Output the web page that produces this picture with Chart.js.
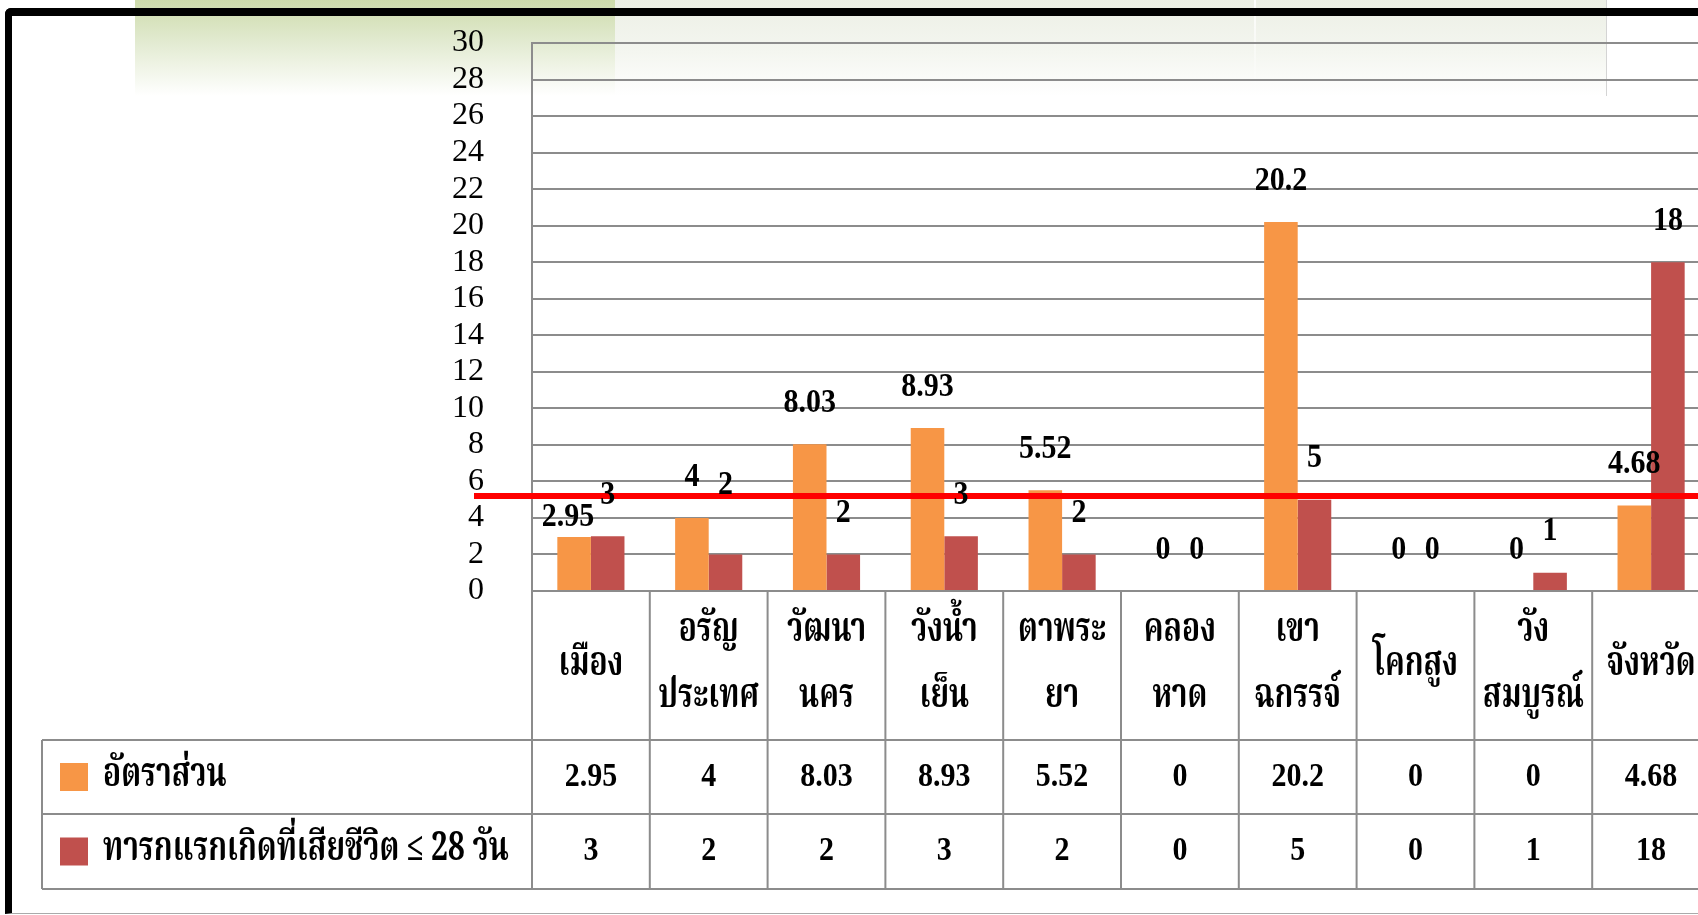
<!DOCTYPE html>
<html><head><meta charset="utf-8">
<script src="https://cdn.jsdelivr.net/npm/chart.js@4.4.1/dist/chart.umd.min.js"></script>
<style>
html,body{margin:0;padding:0;width:1698px;height:915px;overflow:hidden;background:#fff;}
#deco1{position:absolute;left:135px;top:0;width:480px;height:96px;background:linear-gradient(#cddbab,#e3ebd2 45%,#fff);}
#deco2{position:absolute;left:615px;top:0;width:991px;height:96px;background:linear-gradient(#ecefe5,#f4f6f0 55%,#fff);border-right:1px solid #d4d4d4;}
#deco3{position:absolute;left:1254px;top:0;width:2px;height:96px;background:linear-gradient(rgba(255,255,255,0.9),rgba(255,255,255,0));}
#frame{position:absolute;left:5px;top:8px;width:1740px;height:906px;border-top:8px solid #000;border-left:7px solid #000;border-bottom:1px solid #aaa;border-top-left-radius:6px;box-sizing:border-box;}
#wrap{position:absolute;left:0;top:0;width:1760px;height:915px;}
</style></head>
<body>
<div id="deco1"></div><div id="deco2"></div><div id="deco3"></div><div id="frame"></div>
<div id="wrap"><canvas id="c" width="1760" height="915"></canvas></div>
<script>
// ---- data ----
const categories = [["เมือง"],["อรัญ","ประเทศ"],["วัฒนา","นคร"],["วังน้ำ","เย็น"],["ตาพระ","ยา"],["คลอง","หาด"],["เขา","ฉกรรจ์"],["โคกสูง"],["วัง","สมบูรณ์"],["จังหวัด"]];
const rateLabel = "อัตราส่วน";
const rateValues = [2.95, 4, 8.03, 8.93, 5.52, 0, 20.2, 0, 0, 4.68];
const deathLabel = "ทารกแรกเกิดที่เสียชีวิต ≤ 28 วัน";
const deathValues = [3, 2, 2, 3, 2, 0, 5, 0, 1, 18];
const yMin = 0, yMax = 30, yStep = 2;
const referenceLineValue = 5.2;

// ---- styling ----
const thaiFont = '"Noto Serif Thai","Norasi","Garuda","Loma","Noto Sans Thai Looped","Noto Sans Thai","Liberation Serif",serif';
const numFont = '"Liberation Serif","Times New Roman",serif';
const gridColor = '#8c8c8c';
const labelNudge = {"0-0": {dx: -6, dy: 21}, "1-1": {dx: 0, dy: -28}};

function drawScaled(ctx, text, x, y, align, sx, sy) {
  ctx.save();
  ctx.translate(x, y);
  ctx.scale(sx, sy);
  ctx.textAlign = align;
  ctx.fillText(text, 0, 0);
  ctx.restore();
}

const overlayPlugin = {
  id: 'overlay',
  afterDatasetsDraw(chart) {
    const {ctx, scales: {y}} = chart;
    const ry = y.getPixelForValue(referenceLineValue);
    ctx.save();
    ctx.strokeStyle = '#ff0000';
    ctx.lineWidth = 6;
    ctx.beginPath(); ctx.moveTo(474, ry); ctx.lineTo(chart.width, ry); ctx.stroke();
    ctx.font = 'bold 30px ' + numFont;
    ctx.fillStyle = '#000';
    ctx.textBaseline = 'middle';
    chart.data.datasets.forEach((ds, di) => {
      chart.getDatasetMeta(di).data.forEach((bar, i) => {
        const n = labelNudge[di + '-' + i] || {dx: 0, dy: 0};
        drawScaled(ctx, String(ds.data[i]), bar.x + n.dx, bar.y - 41 + n.dy, 'center', 1, 1.12);
      });
    });
    ctx.restore();
  },
  afterDraw(chart) {
    const {ctx, scales: {x}, chartArea} = chart;
    const top = chartArea.bottom, r1 = 740, r2 = 814, r3 = 889, tLeft = 42;
    const n = chart.data.labels.length;
    const colW = (chartArea.right - chartArea.left) / n;
    const right = chart.width;
    ctx.save();
    ctx.strokeStyle = gridColor;
    ctx.lineWidth = 2;
    ctx.beginPath();
    for (let i = 0; i <= n; i++) {
      const xx = chartArea.left + i * colW;
      ctx.moveTo(xx, top); ctx.lineTo(xx, r3);
    }
    [r1, r2, r3].forEach(yy => { ctx.moveTo(tLeft, yy); ctx.lineTo(right, yy); });
    ctx.moveTo(tLeft, r1); ctx.lineTo(tLeft, r3);
    ctx.stroke();

    ctx.fillStyle = '#000';
    ctx.textBaseline = 'middle';
    ctx.font = 'bold 40px ' + thaiFont;
    const sx = Math.min(1, 101 / ctx.measureText('ประเทศ').width);
    chart.data.labels.forEach((lines, i) => {
      const cx = x.getPixelForValue(i);
      if (lines.length === 1) drawScaled(ctx, lines[0], cx, 668, 'center', sx, 1);
      else { drawScaled(ctx, lines[0], cx, 634, 'center', sx, 1); drawScaled(ctx, lines[1], cx, 700, 'center', sx, 1); }
    });
    const rowsY = [(r1 + r2) / 2, (r2 + r3) / 2];
    chart.data.datasets.forEach((ds, di) => {
      const cy = rowsY[di];
      ctx.fillStyle = ds.backgroundColor;
      ctx.fillRect(60, cy - 14, 28, 28);
      ctx.fillStyle = '#000';
      ctx.font = 'bold 40px ' + thaiFont;
      drawScaled(ctx, ds.label, 103, cy + 2, 'left', sx, 1);
      ctx.font = 'bold 30px ' + numFont;
      ds.data.forEach((v, i) => drawScaled(ctx, String(v), x.getPixelForValue(i), cy, 'center', 1, 1.12));
    });
    ctx.restore();
  }
};

new Chart(document.getElementById('c'), {
  type: 'bar',
  data: {
    labels: categories,
    datasets: [
      {label: rateLabel, data: rateValues, backgroundColor: '#F79646'},
      {label: deathLabel, data: deathValues, backgroundColor: '#C0504D'}
    ]
  },
  options: {
    responsive: false,
    animation: false,
    devicePixelRatio: 1,
    layout: {padding: {top: 43, right: 50, left: 0, bottom: 0}},
    datasets: {bar: {categoryPercentage: 0.57, barPercentage: 1.0}},
    plugins: {legend: {display: false}, tooltip: {enabled: false}},
    scales: {
      x: {
        ticks: {display: false},
        grid: {display: false, drawTicks: false},
        border: {display: true, color: gridColor, width: 2},
        afterFit: s => { s.height = 324; s.paddingLeft = 0; s.paddingRight = 0; }
      },
      y: {
        min: yMin, max: yMax,
        ticks: {stepSize: yStep, autoSkip: false, color: '#000', padding: 48, font: {family: numFont, size: 32}},
        grid: {color: gridColor, lineWidth: 2, drawTicks: false},
        border: {color: gridColor, width: 2},
        afterFit: s => { s.width = 532; s.paddingTop = 0; s.paddingBottom = 0; }
      }
    }
  },
  plugins: [overlayPlugin]
});
</script>
</body></html>
